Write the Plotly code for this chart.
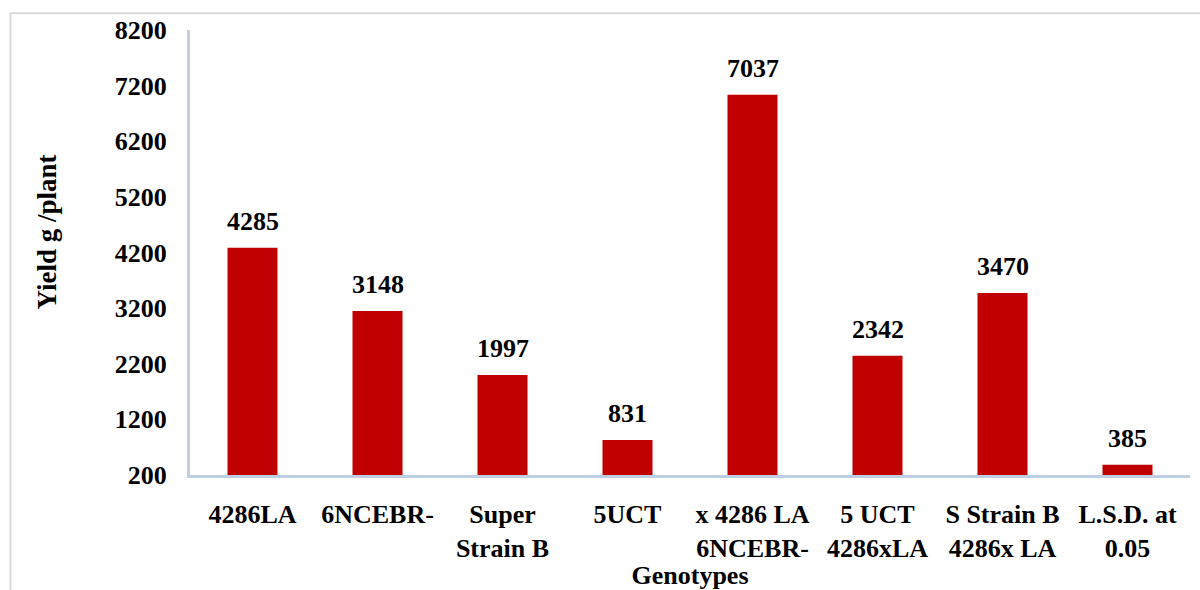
import plotly.graph_objects as go

categories = ["4286LA", "6NCEBR-", "Super<br>Strain B", "5UCT", "x 4286 LA<br>6NCEBR-",
              "5 UCT<br>4286xLA", "S Strain B<br>4286x LA", "L.S.D. at<br>0.05"]
yield_values = [4285, 3148, 1997, 831, 7037, 2342, 3470, 385]
y_ticks = [200, 1200, 2200, 3200, 4200, 5200, 6200, 7200, 8200]
axis_min = 200
x_title = "Genotypes"
y_title = "Yield g /plant"

FONT = "Liberation Serif"
BAR = "#C00000"
AXIS = "#bfcfe3"

fig = go.Figure()
fig.add_trace(go.Bar(x=categories, y=[v - axis_min for v in yield_values], base=axis_min,
                     marker_color=BAR, marker_line_width=0, width=0.4))

for c, v in zip(categories, yield_values):
    fig.add_annotation(x=c, y=v, text="<b>" + str(v) + "</b>", showarrow=False, yanchor="bottom",
                       yshift=10, font=dict(family=FONT, size=26, color="black"))

# y-axis title placed as annotation (sits slightly above the plot's vertical centre)
fig.add_annotation(xref="paper", yref="paper", x=-0.143, y=0.545, text="<b>" + y_title + "</b>",
                   textangle=-90, showarrow=False, xanchor="center", yanchor="middle",
                   font=dict(family=FONT, size=27, color="black"))

fig.update_layout(
    width=1200, height=590,
    margin=dict(l=190, r=10, t=30, b=115, autoexpand=False),
    paper_bgcolor="white", plot_bgcolor="white",
    showlegend=False,
    font=dict(family=FONT, size=26, color="black"),
    shapes=[dict(type="rect", xref="paper", yref="paper",
                 x0=-0.1795, x1=1.05, y0=-0.4, y1=1.0375,
                 line=dict(color="#d9d9d9", width=2), layer="below")],
)
fig.update_xaxes(
    showline=True, linecolor=AXIS, linewidth=3, showgrid=False, ticks="", automargin=False,
    tickfont=dict(family=FONT, size=26, color="black", weight="bold"),
    ticklabelstandoff=14,
    title=dict(text="<b>" + x_title + "</b>", font=dict(family=FONT, size=26), standoff=0),
)
fig.update_yaxes(
    range=[axis_min, 8200], tickvals=y_ticks, ticktext=[str(t) for t in y_ticks],
    showline=True, linecolor=AXIS, linewidth=3, showgrid=False, ticks="", zeroline=False,
    automargin=False,
    tickfont=dict(family=FONT, size=26, color="black", weight="bold"),
    ticklabelstandoff=15,
)

fig.write_html("out.html", config={"displayModeBar": False},
               post_script="document.body.style.margin='0';")
